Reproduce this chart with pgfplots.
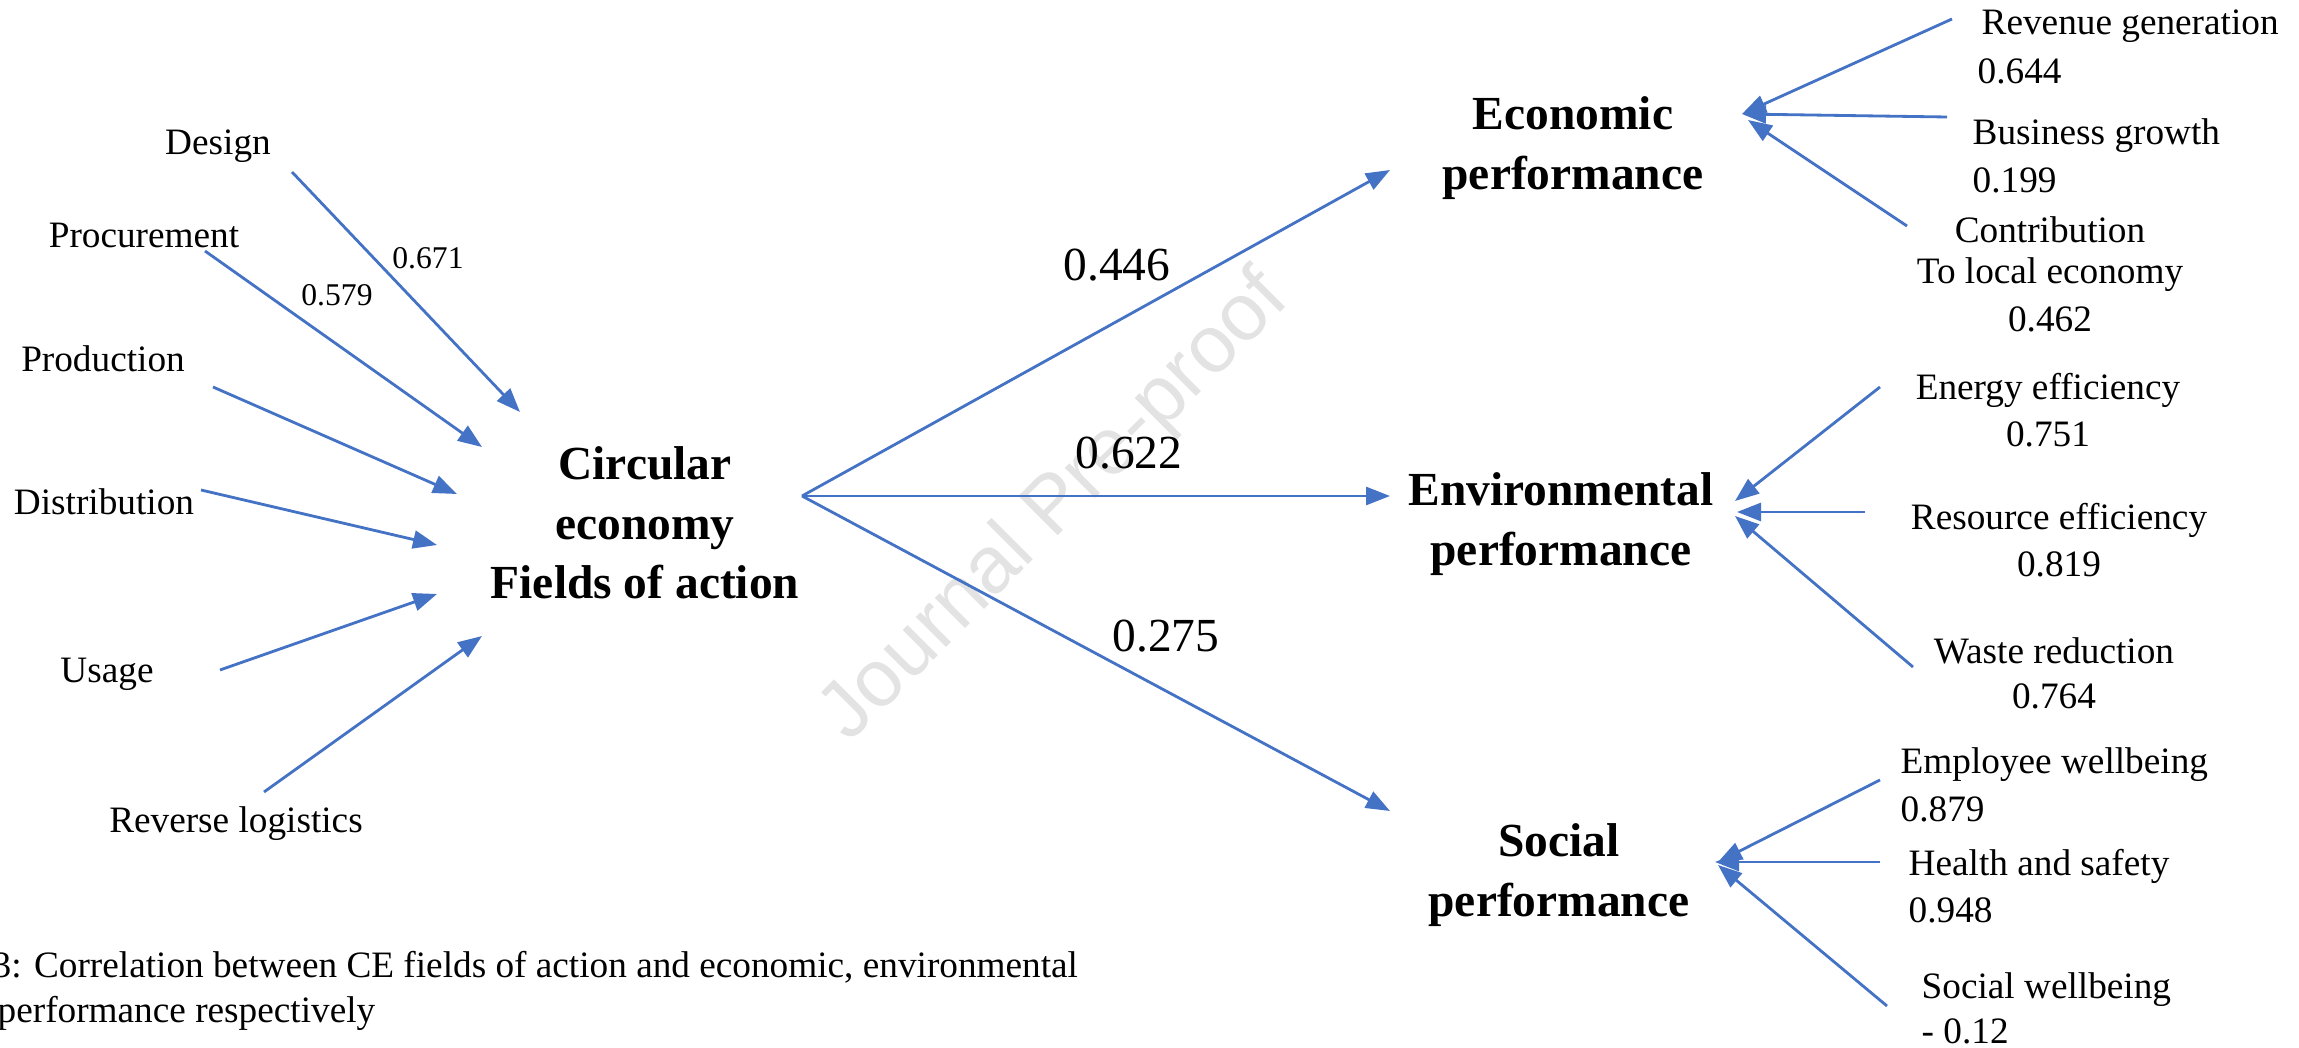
\documentclass[border=0pt]{standalone}
\usepackage{pgfplots}
\pgfplotsset{compat=1.18}
\usepackage{fontspec}
\setmainfont{Liberation Serif}
\newfontfamily\wmfont{Liberation Sans}
\usetikzlibrary{arrows.meta}
\definecolor{arr}{RGB}{68,114,196}
\tikzset{ar/.style={arr, line width=0.8pt, -{Triangle[length=2.4mm,width=1.8mm]}},
  lab/.style={font=\fontsize{10.6}{12.8}\selectfont, inner sep=0pt, yshift=-0.4mm},
  sm/.style={font=\fontsize{9}{11}\selectfont, inner sep=0pt, yshift=-0.3mm},
  big/.style={font=\fontsize{13.5}{16.7}\selectfont, inner sep=0pt, yshift=-0.4mm},
  head/.style={font=\bfseries\fontsize{13.5}{16.9}\selectfont, align=center, inner sep=0pt, yshift=-0.5mm}}
\begin{document}
\begin{tikzpicture}
\begin{axis}[at={(0,0)},anchor=south west, width=22.99cm, height=10.48cm, scale only axis,
  xmin=0,xmax=2299,ymin=0,ymax=1048, y dir=reverse, hide axis, clip=false]
% watermark
\node[rotate=45, text=black!11, font=\wmfont\fontsize{23}{23}\selectfont] at (axis cs:1056,508) {Journal Pre-proof};
% left arrows
\addplot[ar] coordinates {(292,172) (520,412)};
\addplot[ar] coordinates {(205,251) (482,447)};
\addplot[ar] coordinates {(213,387) (457,494)};
\addplot[ar] coordinates {(201,490) (437,545)};
\addplot[ar] coordinates {(220,670) (437,594)};
\addplot[ar] coordinates {(264,792) (482,636)};
% big arrows
\addplot[ar] coordinates {(802,496) (1390,170)};
\addplot[ar] coordinates {(802,496) (1390,496)};
\addplot[ar] coordinates {(802,496) (1390,811)};
% right arrows economic
\addplot[ar] coordinates {(1952,19) (1742,114)};
\addplot[ar] coordinates {(1947,117) (1742,114)};
\addplot[ar] coordinates {(1907,226) (1748,120)};
% environmental
\addplot[ar] coordinates {(1880,387) (1735,501)};
\addplot[ar] coordinates {(1865,512) (1737,512)};
\addplot[ar] coordinates {(1913,667) (1735,516)};
% social
\addplot[ar] coordinates {(1880,780) (1718,862)};
\addplot[ar] coordinates {(1880,862) (1715,862)};
\addplot[ar] coordinates {(1887,1006) (1718,865)};
% left labels
\node[lab] at (axis cs:218,142) {Design};
\node[lab] at (axis cs:144,231) {Procurement};
\node[lab] at (axis cs:103,355) {Production};
\node[lab] at (axis cs:104,498) {Distribution};
\node[lab] at (axis cs:107,670) {Usage};
\node[lab] at (axis cs:236,820) {Reverse logistics};
\node[sm] at (axis cs:428,255) {0.671};
\node[sm] at (axis cs:337,292) {0.579};
% center
\node[head] at (axis cs:645,518) {Circular\\economy\\Fields of action};
\node[big] at (axis cs:1117,261) {0.446};
\node[big] at (axis cs:1129,449) {0.622};
\node[big] at (axis cs:1166,632) {0.275};
% headings
\node[head] at (axis cs:1573,143) {Economic\\performance};
\node[head] at (axis cs:1561,519) {Environmental\\performance};
\node[head] at (axis cs:1559,870) {Social\\performance};
% economic labels
\node[lab,anchor=west] at (axis cs:1981,22) {Revenue generation};
\node[lab,anchor=west] at (axis cs:1977,67) {0.644};
\node[lab,anchor=west] at (axis cs:1972,132) {Business growth};
\node[lab,anchor=west] at (axis cs:1972,176) {0.199};
\node[lab] at (axis cs:2050,226) {Contribution};
\node[lab] at (axis cs:2050,271) {To local economy};
\node[lab] at (axis cs:2050,315) {0.462};
% environmental labels
\node[lab] at (axis cs:2048,386) {Energy efficiency};
\node[lab] at (axis cs:2048,430) {0.751};
\node[lab] at (axis cs:2059,516) {Resource efficiency};
\node[lab] at (axis cs:2059,560) {0.819};
\node[lab] at (axis cs:2054,647) {Waste reduction};
\node[lab] at (axis cs:2054,692) {0.764};
% social labels
\node[lab,anchor=west] at (axis cs:1900,761) {Employee wellbeing};
\node[lab,anchor=west] at (axis cs:1900,805) {0.879};
\node[lab,anchor=west] at (axis cs:1908,862) {Health and safety};
\node[lab,anchor=west] at (axis cs:1908,906) {0.948};
\node[lab,anchor=west] at (axis cs:1921,986) {Social wellbeing};
\node[lab,anchor=west] at (axis cs:1921,1027) {- 0.12};
% caption
\node[lab,anchor=west] at (axis cs:-8,963) {3: Correlation between CE fields of action and economic, environmental};
\node[lab,anchor=west] at (axis cs:-3,1009) {performance respectively};
\end{axis}
\pgfresetboundingbox
\useasboundingbox (0,0) rectangle (22.99cm,10.48cm);
\end{tikzpicture}
\end{document}
